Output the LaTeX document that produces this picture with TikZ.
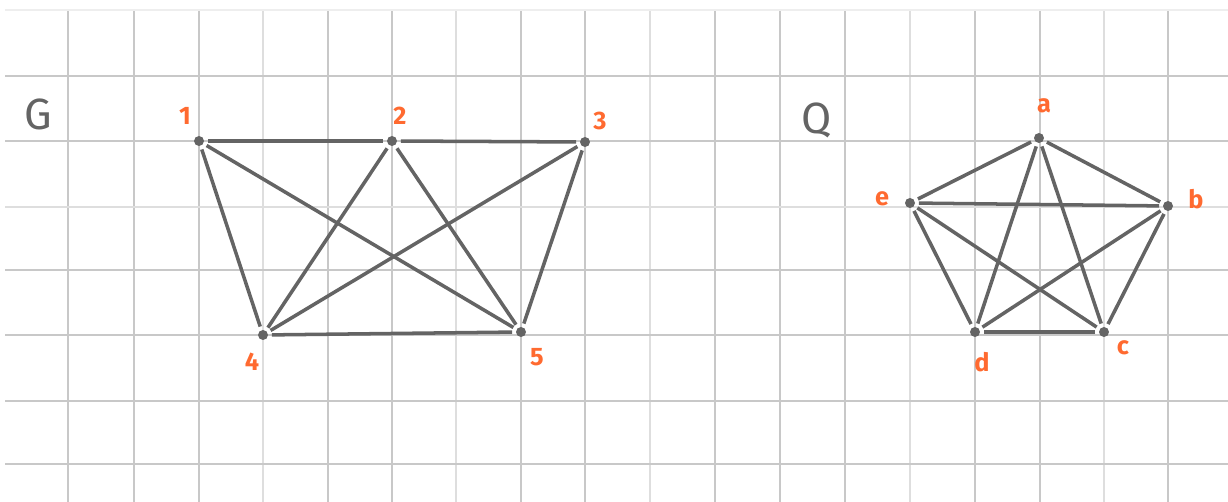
\documentclass[tikz,border=0pt]{standalone}
\usepackage{fontspec}
\setsansfont{Fira Sans}
\usetikzlibrary{positioning}

\definecolor{gridgray}{RGB}{200,200,200}
\definecolor{edgegray}{RGB}{100,100,100}
\definecolor{labelorange}{RGB}{255,106,48}

\begin{document}
\begin{tikzpicture}[
    x=0.02cm, y=-0.02cm,
    vertex/.style={circle, fill=edgegray, inner sep=0pt, minimum size=0.2cm},
    vlabel/.style={text=labelorange, font=\sffamily\bfseries\Large, inner sep=0pt},
    glabel/.style={text=edgegray, font=\sffamily\Huge, inner sep=0pt},
    edge/.style={draw=edgegray, line width=2pt, shorten <=2pt, shorten >=2pt},
    gridline/.style={draw=gridgray, line width=0.7pt}
  ]
    \useasboundingbox (0,0) rectangle (1228,502);
    % paper grid
    \foreach \x in {68,134,199,328,392,521,585,715,780,845,975,1040,1168}
      \draw[gridline] (\x,10) -- (\x,502);
    \foreach \x in {263,456,650,910,1104}
      \draw[gridline, draw=gridgray!60] (\x,10) -- (\x,502);
    \foreach \y in {76,141,270,335,401,464}
      \draw[gridline] (5,\y) -- (1228,\y);
    \draw[gridline, draw=gridgray!60] (5,207) -- (1228,207);
    \draw[gridline, draw=gridgray!30] (5,10) -- (1228,10);

    % graph G
    \node[glabel] (gname) at (38,114) {G};
    \node[vertex] (g1) at (199,141) {};
    \node[vertex] (g2) at (392,141) {};
    \node[vertex] (g3) at (585,142) {};
    \node[vertex] (g4) at (263,335) {};
    \node[vertex] (g5) at (521,332) {};
    \node[vlabel] (l1) at (185,116) {1};
    \node[vlabel] (l2) at (400,116) {2};
    \node[vlabel] (l3) at (600,121) {3};
    \node[vlabel] (l4) at (252,362) {4};
    \node[vlabel] (l5) at (537,357) {5};
    \foreach \a/\b in {g1/g2,g1/g4,g1/g5,g2/g3,g2/g4,g2/g5,g3/g4,g3/g5,g4/g5}
      \draw[edge] (\a) -- (\b);

    % graph Q
    \node[glabel] (qname) at (817,120) {Q};
    \node[vertex] (qa) at (1039,138) {};
    \node[vertex] (qb) at (1168,206) {};
    \node[vertex] (qc) at (1104,332) {};
    \node[vertex] (qd) at (975,332) {};
    \node[vertex] (qe) at (910,203) {};
    \node[vlabel] (la) at (1044,106) {a};
    \node[vlabel] (lb) at (1196,199) {b};
    \node[vlabel] (lc) at (1123,348) {c};
    \node[vlabel] (ld) at (982,362) {d};
    \node[vlabel] (le) at (882,199) {e};
    \foreach \a/\b in {qa/qb,qa/qc,qa/qd,qa/qe,qb/qc,qb/qd,qb/qe,qc/qd,qc/qe,qd/qe}
      \draw[edge] (\a) -- (\b);
  \end{tikzpicture}
\end{document}
